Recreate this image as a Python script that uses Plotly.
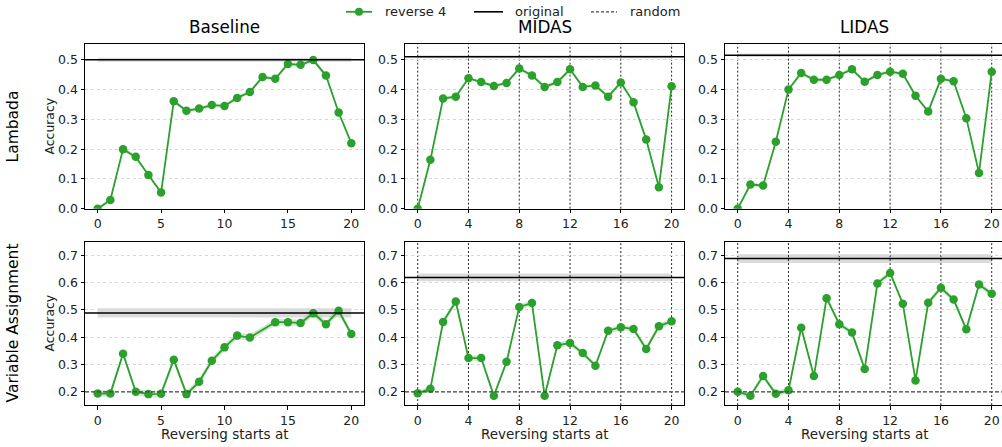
import plotly.graph_objects as go

# ---------------- data ----------------
steps = list(range(21))
columns = ["Baseline", "MIDAS", "LIDAS"]
rows = ["Lambada", "Variable Assignment"]
legend_labels = ["reverse 4", "original", "random"]

lambada_baseline = [0.0, 0.029, 0.200, 0.174, 0.113, 0.054, 0.361, 0.329, 0.336, 0.348, 0.345,
                    0.372, 0.392, 0.442, 0.436, 0.486, 0.483, 0.499, 0.447, 0.323, 0.220]
lambada_midas = [0.0, 0.164, 0.370, 0.376, 0.438, 0.425, 0.412, 0.422, 0.471, 0.447, 0.409,
                 0.425, 0.468, 0.409, 0.414, 0.376, 0.424, 0.357, 0.232, 0.072, 0.411]
lambada_lidas = [0.0, 0.081, 0.078, 0.225, 0.400, 0.456, 0.433, 0.433, 0.449, 0.468, 0.426,
                 0.449, 0.460, 0.453, 0.379, 0.326, 0.436, 0.428, 0.304, 0.120, 0.460]

var_baseline = [0.194, 0.194, 0.340, 0.201, 0.192, 0.193, 0.318, 0.192, 0.237, 0.314, 0.363,
                0.406, 0.399, None, 0.455, 0.455, 0.452, 0.488, 0.448, 0.497, 0.412]
var_midas = [0.195, 0.212, 0.456, 0.531, 0.324, 0.324, 0.186, 0.310, 0.511, 0.525, 0.186,
             0.371, 0.379, 0.342, 0.296, 0.424, 0.437, 0.430, 0.357, 0.440, 0.459]
var_lidas = [0.201, 0.186, 0.258, 0.193, 0.206, 0.435, 0.258, 0.543, 0.448, 0.417, 0.284,
             0.597, 0.635, 0.523, 0.242, 0.526, 0.581, 0.538, 0.429, 0.593, 0.559]

reverse_std_lambada = [0.006, 0.006, 0.006]
reverse_std_var = [0.012, 0.010, 0.010]

original_lambada = [0.500, 0.510, 0.515]
original_lambada_std = [0.007, 0.005, 0.006]
original_var = [0.489, 0.619, 0.688]
original_var_std = [0.017, 0.014, 0.016]

random_lambada = 0.0
random_var = 0.2

block_lines = [0, 4, 8, 12, 16, 20]
xticks_baseline = [0, 5, 10, 15, 20]
xticks_blocks = [0, 4, 8, 12, 16, 20]
yticks_lambada = [0.0, 0.1, 0.2, 0.3, 0.4, 0.5]
yticks_var = [0.2, 0.3, 0.4, 0.5, 0.6, 0.7]

series = [[lambada_baseline, lambada_midas, lambada_lidas],
          [var_baseline, var_midas, var_lidas]]
rev_std = [reverse_std_lambada, reverse_std_var]
orig = [original_lambada, original_var]
orig_std = [original_lambada_std, original_var_std]
rand = [random_lambada, random_var]
yticks = [yticks_lambada, yticks_var]

# ---------------- layout geometry (pixels) ----------------
W, H = 1002, 447
col_px = [(85, 364), (405, 684.3), (725, 1002)]
row_px = [(45, 212), (245.7, 411.5)]
x_ranges = [[-1, 21], [-1, 21], [-1, 20.81]]
y_ranges = [[0, 0.552], [0.152, 0.749]]

GREEN = "#2ca02c"
FONT = "DejaVu Sans"

fig = go.Figure()
layout = dict(
    width=W, height=H, autosize=False,
    margin=dict(l=0, r=0, t=0, b=0, pad=0),
    paper_bgcolor="white", plot_bgcolor="white",
    font=dict(family=FONT, color="#222", size=12.5),
    showlegend=False,
)
shapes = []
annotations = []

for r in range(2):
    for c in range(3):
        idx = r * 3 + c + 1
        xa = "x" if idx == 1 else f"x{idx}"
        ya = "y" if idx == 1 else f"y{idx}"
        x0p, x1p = col_px[c]
        y0p, y1p = row_px[r]
        layout["xaxis" if idx == 1 else f"xaxis{idx}"] = dict(
            domain=[x0p / W, x1p / W], anchor=ya, range=x_ranges[c],
            tickvals=xticks_baseline if c == 0 else xticks_blocks,
            ticks="outside", ticklen=3.5, tickcolor="black", tickwidth=1,
            showline=True, linecolor="black", linewidth=1, mirror=True,
            showgrid=False, zeroline=False,
            tickfont=dict(size=12.5, family=FONT, color="#222"),
        )
        layout["yaxis" if idx == 1 else f"yaxis{idx}"] = dict(
            domain=[1 - y1p / H, 1 - y0p / H], anchor=xa, range=y_ranges[r],
            tickvals=yticks[r], tickformat=".1f",
            ticks="outside", ticklen=3.5, tickcolor="black", tickwidth=1,
            showline=True, linecolor="black", linewidth=1, mirror=(c != 2),
            showgrid=True, gridcolor="#d9d9d9", griddash="dot", gridwidth=0.8,
            zeroline=False,
            tickfont=dict(size=12.5, family=FONT, color="#222"),
        )

        # vertical block lines for MIDAS / LIDAS
        if c > 0:
            for bx in block_lines:
                shapes.append(dict(type="line", xref=xa, yref=f"{ya} domain",
                                   x0=bx, x1=bx, y0=0, y1=1, layer="below",
                                   line=dict(color="#111", width=0.9, dash="2px,2px")))

        # original band + line
        m, s = orig[r][c], orig_std[r][c]
        shapes.append(dict(type="rect", xref=xa, yref=ya, x0=0, x1=20,
                           y0=m - s, y1=m + s, layer="below",
                           fillcolor="rgba(0,0,0,0.14)", line=dict(width=0)))
        shapes.append(dict(type="line", xref=f"{xa} domain", yref=ya,
                           x0=0, x1=1, y0=m, y1=m, layer="above",
                           line=dict(color="black", width=1.5)))
        # random line (hidden by the bottom spine when it sits on the axis floor)
        if rand[r] > y_ranges[r][0]:
            shapes.append(dict(type="line", xref=f"{xa} domain", yref=ya,
                               x0=0, x1=1, y0=rand[r], y1=rand[r], layer="above",
                               line=dict(color="#444", width=1.2, dash="4px,2px")))

        # reverse band
        vals = series[r][c]
        sd = rev_std[r][c]
        pts = [(x, v) for x, v in zip(steps, vals) if v is not None]
        bx_ = [p[0] for p in pts] + [p[0] for p in pts[::-1]]
        by_ = [p[1] + sd for p in pts] + [p[1] - sd for p in pts[::-1]]
        fig.add_trace(go.Scatter(x=bx_, y=by_, xaxis=xa, yaxis=ya, fill="toself",
                                 fillcolor="rgba(44,160,44,0.22)", line=dict(width=0),
                                 mode="lines", hoverinfo="skip", showlegend=False))
        fig.add_trace(go.Scatter(x=steps, y=vals, xaxis=xa, yaxis=ya, mode="lines+markers",
                                 connectgaps=True, name=legend_labels[0],
                                 line=dict(color=GREEN, width=1.8),
                                 marker=dict(color=GREEN, size=8.5),
                                 showlegend=False))

# ---------------- manual legend ----------------
ly = 1 - 12 / H
def px(x):
    return x / W
shapes.append(dict(type="line", xref="paper", yref="paper", x0=px(346), x1=px(372),
                   y0=ly, y1=ly, line=dict(color=GREEN, width=1.8)))
shapes.append(dict(type="circle", xref="paper", yref="paper",
                   x0=px(359 - 4), x1=px(359 + 4), y0=ly - 4 / H, y1=ly + 4 / H,
                   fillcolor=GREEN, line=dict(width=0)))
shapes.append(dict(type="line", xref="paper", yref="paper", x0=px(474), x1=px(503),
                   y0=ly, y1=ly, line=dict(color="black", width=1.6)))
shapes.append(dict(type="line", xref="paper", yref="paper", x0=px(591), x1=px(617),
                   y0=ly, y1=ly, line=dict(color="#444", width=1.2, dash="3px,2px")))
for label, lx in zip(legend_labels, [383, 513, 628]):
    annotations.append(dict(text=label, x=px(lx), y=ly, xref="paper", yref="paper",
                            showarrow=False, xanchor="left", yanchor="middle",
                            font=dict(size=13, family=FONT, color="#222")))

# titles
for c, name in enumerate(columns):
    cx = (col_px[c][0] + (col_px[c][1] if c < 2 else 1004.4)) / 2
    annotations.append(dict(text=name, x=cx / W, y=1 - 27 / H, xref="paper", yref="paper",
                            showarrow=False, xanchor="center", yanchor="middle",
                            font=dict(size=16.8, family=FONT, color="black")))
    annotations.append(dict(text="Reversing starts at", x=cx / W, y=1 - 441 / H,
                            xref="paper", yref="paper", showarrow=False,
                            xanchor="center", yanchor="middle",
                            font=dict(size=13.5, family=FONT, color="#222")))
for r, name in enumerate(rows):
    cy = (row_px[r][0] + row_px[r][1]) / 2
    annotations.append(dict(text=name, x=13 / W, y=1 - cy / H, xref="paper", yref="paper",
                            showarrow=False, textangle=-90, xanchor="center", yanchor="middle",
                            font=dict(size=15.5, family=FONT, color="black")))
    annotations.append(dict(text="Accuracy", x=49 / W, y=1 - cy / H, xref="paper", yref="paper",
                            showarrow=False, textangle=-90, xanchor="center", yanchor="middle",
                            font=dict(size=12.4, family=FONT, color="#222")))

layout["shapes"] = shapes
layout["annotations"] = annotations
fig.update_layout(**layout)
fig.write_html("out.html", config={"responsive": False})
